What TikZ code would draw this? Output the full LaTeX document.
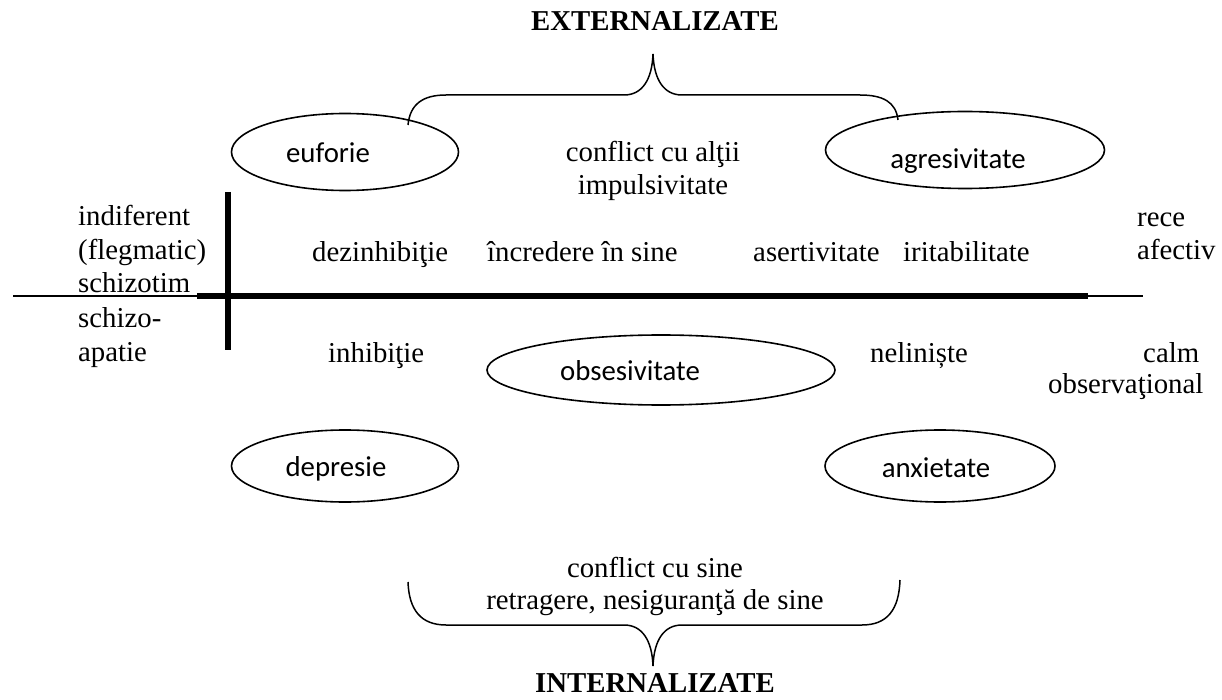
\documentclass[tikz,border=0pt]{standalone}
\usepackage{fontspec}
\setmainfont{Liberation Serif}
\newfontfamily\ovalfont{Carlito}
\usetikzlibrary{shapes.geometric}
\begin{document}
\begin{tikzpicture}[x=1pt,y=-1pt,
  every node/.style={inner sep=0pt, font=\fontsize{28.8}{33.5}\selectfont},
  lbl/.style={anchor=base west},
  lblc/.style={anchor=base},
  oval/.style={ellipse, draw, line width=1.6pt},
  ovaltext/.style={anchor=base, font=\fontsize{28.8}{33.5}\selectfont\ovalfont},
  heading/.style={anchor=base, font=\fontsize{28.8}{33.5}\selectfont\bfseries},
  brace/.style={line width=1.5pt},
  thinaxis/.style={line width=1.3pt},
  thickaxis/.style={line width=6pt},
]
\useasboundingbox (0,0) rectangle (1222,700);

% ---- axes ----
\coordinate (hL) at (13,296);
\coordinate (hR) at (1143,296);
\coordinate (HL) at (197,296);
\coordinate (HR) at (1088,296);
\coordinate (vT) at (228,192);
\coordinate (vB) at (228,350);
\draw[thinaxis] (hL) -- (hR);
\draw[thickaxis] (HL) -- (HR);
\draw[thickaxis] (vT) -- (vB);

% ---- headings ----
\node[heading] (ext) at (655,31) {EXTERNALIZATE};
\node[heading] (int) at (655,692) {INTERNALIZATE};

% ---- upper brace ----
\coordinate (tbL) at (408,125);
\coordinate (tbR) at (898,120);
\coordinate (tbTip) at (653,54);
\draw[brace] (tbL) .. controls (410,104) and (423,95) .. (446,95) -- (624,95)
  .. controls (642,95) and (652,80) .. (tbTip)
  .. controls (654,80) and (664,95) .. (682,95) -- (860,95)
  .. controls (883,95) and (896,102) .. (tbR);

% ---- lower brace ----
\coordinate (bbL) at (408,582);
\coordinate (bbR) at (900,580);
\coordinate (bbTip) at (653,666);
\draw[brace] (bbL) .. controls (409,610) and (421,625) .. (446,625) -- (624,625)
  .. controls (642,625) and (652,640) .. (bbTip)
  .. controls (654,640) and (664,625) .. (682,625) -- (862,625)
  .. controls (887,625) and (899,610) .. (bbR);

% ---- ovals ----
\node[oval, minimum width=227pt, minimum height=77pt] (euf) at (345,152) {};
\node[ovaltext] (euft) at (328,163) {euforie};
\node[oval, minimum width=279pt, minimum height=77pt] (agr) at (965,150) {};
\node[ovaltext] (agrt) at (958,169) {agresivitate};
\node[oval, minimum width=348pt, minimum height=70pt] (obs) at (661,370) {};
\node[ovaltext] (obst) at (630,380) {obsesivitate};
\node[oval, minimum width=227pt, minimum height=72pt] (dep) at (345,466) {};
\node[ovaltext] (dept) at (336,476) {depresie};
\node[oval, minimum width=230pt, minimum height=72pt] (anx) at (940,466) {};
\node[ovaltext] (anxt) at (936,477) {anxietate};

% ---- centre texts ----
\node[lblc] (ca1) at (653,162) {conflict cu alţii};
\node[lblc] (ca2) at (653,195) {impulsivitate};
\node[lblc] (cs1) at (655,577) {conflict cu sine};
\node[lblc] (cs2) at (655,609) {retragere, nesiguranţă de sine};

% ---- left column ----
\node[lbl] (l1) at (78,226) {indiferent};
\node[lbl] (l2) at (78,260) {(flegmatic)};
\node[lbl] (l3) at (78,293) {schizotim};
\node[lbl] (l4) at (78,327) {schizo-};
\node[lbl] (l5) at (78,361) {apatie};

% ---- right column ----
\node[lbl] (r1) at (1137,227) {rece};
\node[lbl] (r2) at (1137,260) {afectiv};
\node[lbl] (r3) at (1143,362) {calm};
\node[lbl] (r4) at (1048,393) {observaţional};

% ---- rows beside the axis ----
\node[lbl] (u1) at (312,262) {dezinhibiţie};
\node[lbl] (u2) at (487,262) {încredere în sine};
\node[lbl] (u3) at (753,262) {asertivitate};
\node[lbl] (u4) at (903,262) {iritabilitate};
\node[lbl] (d1) at (328,362) {inhibiţie};
\node[lbl] (d2) at (870,362) {neliniște};
\end{tikzpicture}
\end{document}
